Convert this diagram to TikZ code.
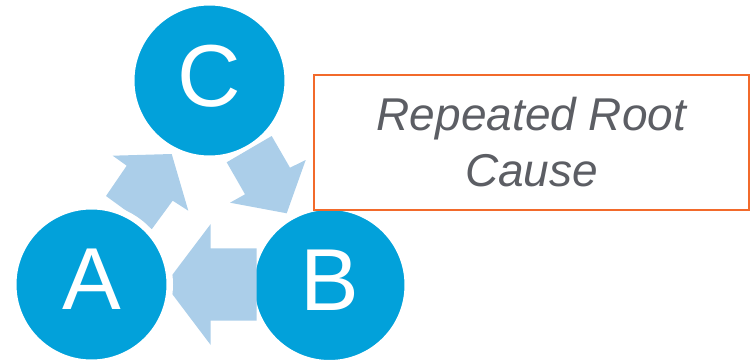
\documentclass[tikz,border=0pt]{standalone}
\usepackage{fontspec}
\setmainfont{Liberation Sans}
\definecolor{cycleblue}{HTML}{02A1DA}
\definecolor{arrowblue}{HTML}{ABCEE9}
\definecolor{causeorange}{HTML}{F26A2B}
\definecolor{causegray}{HTML}{5C5E64}
\tikzset{
	stage/.style={circle,fill=cycleblue,draw=white,line width=6.5pt,minimum size=156.5pt,inner sep=0pt,text=white,font=\fontsize{88}{88}\selectfont,text depth=10pt},
	flow/.style={fill=arrowblue},
}
\begin{document}
\begin{tikzpicture}[x=1pt,y=-1pt]
	\useasboundingbox (0,0) rectangle (750,361);
	\node[stage] (C) at (209.5,80.5) {C};
	\node[stage] (B) at (329.5,285) {B};
	
	\fill[flow] (112.7,155.7) -- (126.7,165.7) -- (106,196) -- (151.7,229.3) -- (172.7,200.7) -- (188.3,210.7) -- (171.7,154) -- cycle;
	\fill[flow] (226.7,162.3) -- (271.7,136) -- (290,167.7) -- (305.7,160) -- (286.7,213.3) -- (230,202.7) -- (245,194.3) -- cycle;
	\fill[flow] (256.5,248.3) -- (210.7,248.3) -- (210.7,224) -- (165,284.5) -- (210.7,345) -- (210.7,320.7) -- (256.5,320.7) -- cycle;
	
	\node[stage] (A) at (91.5,284.5) {A};
	
	\node[draw=causeorange,line width=2pt,minimum width=435pt,minimum height=135pt,align=center,text=causegray,font=\fontsize{46}{56}\selectfont\itshape] (cause) at (531.5,142.5) {Repeated Root\\Cause};
\end{tikzpicture}
\end{document}
